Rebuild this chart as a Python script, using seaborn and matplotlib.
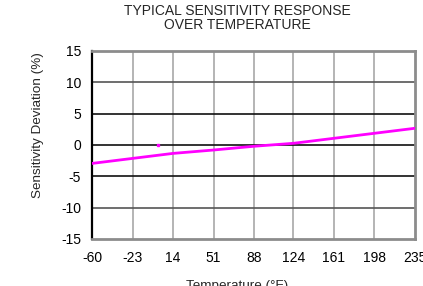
import matplotlib
matplotlib.use("Agg")
import matplotlib.pyplot as plt
import seaborn as sns
import pandas as pd

sns.set_theme(style="white")
plt.rcParams['font.family'] = ['Liberation Sans', 'DejaVu Sans']

temps = [-60, -23, 14, 51, 88, 124, 161, 198, 235]
deviation = [-2.94, -2.14, -1.34, -0.8, -0.2, 0.27, 1.07, 1.87, 2.67]
x_ticks = [-60, -23, 14, 51, 88, 124, 161, 198, 235]
y_ticks = [-15, -10, -5, 0, 5, 10, 15]
stray_x = [0.5]
stray_y = [0.0]

df = pd.DataFrame({"Temperature": temps, "Deviation": deviation})

fig = plt.figure(figsize=(4.23, 2.86), dpi=100)
ax = fig.add_axes([92/423, 1 - 239/286, (415 - 92)/423, (239 - 51)/286])

for v in x_ticks[1:-1]:
    ax.axvline(v, color="#a8a8a8", lw=1.2, zorder=1)
for h in y_ticks[1:-1]:
    c = "#111111" if abs(h) <= 5 else "#555555"
    ax.axhline(h, color=c, lw=1.2, zorder=1)

sns.lineplot(data=df, x="Temperature", y="Deviation", ax=ax, color="#ff00ff", lw=2, zorder=3)
ax.plot(stray_x, stray_y, 's', color="#ff00ff", ms=2, zorder=3)

ax.set_xlim(-60, 235)
ax.set_ylim(-15, 15)
ax.set_xticks(x_ticks)
ax.set_yticks(y_ticks)
ax.set_xticklabels([str(t) for t in x_ticks])
ax.set_yticklabels([str(t) for t in y_ticks])
ax.tick_params(axis='both', length=0, labelsize=10, colors='black')
ax.tick_params(axis='x', pad=9)
ax.tick_params(axis='y', pad=8)
ax.set_xlabel("")
ax.set_ylabel("")

for s in ["top", "bottom", "right"]:
    ax.spines[s].set_color("#8c8c8c")
    ax.spines[s].set_linewidth(2)
ax.spines["left"].set_color("black")
ax.spines["left"].set_linewidth(1.6)

fig.text(237/423, 1 - 18/286, "TYPICAL SENSITIVITY RESPONSE\nOVER TEMPERATURE",
         ha="center", va="center", fontsize=10, linespacing=1.05)
fig.text(38/423, 1 - 125/286, "Sensitivity Deviation (%)", rotation=90,
         ha="center", va="center", fontsize=9.7)
fig.text(237/423, 1 - 286/286, "Temperature (°F)", ha="center", va="center", fontsize=9.7)

fig.savefig("out.png", dpi=100)
